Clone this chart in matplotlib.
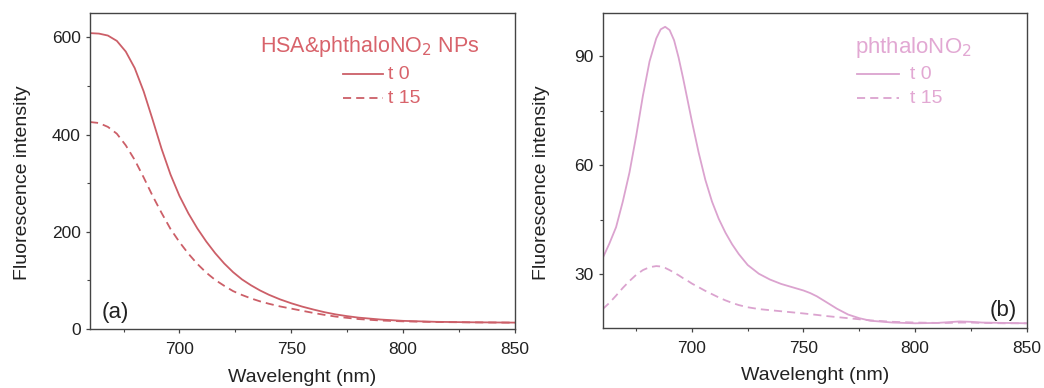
import matplotlib
matplotlib.use("Agg")
import matplotlib.pyplot as plt

plt.rcParams['font.family'] = ['Liberation Sans', 'DejaVu Sans']

# Panel (a): HSA&phthaloNO2 NPs
wl_a = [660, 664, 668, 672, 676, 680, 684, 688, 692, 696, 700, 704, 708, 712, 716,
        720, 724, 728, 732, 736, 740, 745, 750, 755, 760, 765, 770, 775, 780, 790,
        800, 815, 830, 850]
a_t0 = [609, 608, 604, 593, 571, 537, 489, 431, 371, 318, 274, 238, 207, 180, 156,
        135, 117, 102, 90, 79.5, 70.5, 61, 53, 46, 40, 34.5, 30, 26.5, 23.5, 19.5,
        16.8, 14.8, 13.9, 13.2]
a_t15 = [426, 424, 416, 402, 378, 348, 312, 274, 239, 206, 179, 155, 134, 116, 101,
         89, 78, 70, 63, 57, 52, 46.5, 42, 37.5, 33, 29, 25.5, 23, 20.5, 17.5,
         15.8, 14.4, 13.7, 13.1]

# Panel (b): phthaloNO2
wl_b = [660, 663, 666, 669, 672, 675, 678, 681, 684, 686, 688, 690, 692, 694, 696,
        698, 700, 703, 706, 709, 712, 715, 718, 721, 725, 730, 735, 740, 745, 750,
        753, 756, 760, 765, 770, 775, 780, 790, 800, 810, 815, 820, 825, 830, 840, 850]
b_t0 = [34.5, 38.5, 43, 50, 58, 68, 79, 88.5, 94.8, 97.3, 98.0, 97.1, 94.3, 89.6, 84.0,
        78.0, 72.0, 63.5, 56.0, 50.0, 45.3, 41.5, 38.3, 35.6, 32.6, 30.2, 28.6, 27.4, 26.5, 25.6,
        24.9, 24.0, 22.5, 20.6, 19.0, 18.0, 17.3, 16.8, 16.6, 16.7, 16.9, 17.1, 17.0, 16.8, 16.7, 16.6]
b_t15 = [20.5, 22.2, 24.2, 26.3, 28.2, 29.9, 31.2, 32.0, 32.3, 32.2, 31.8, 31.2, 30.5, 29.8, 29.0,
         28.3, 27.5, 26.5, 25.5, 24.6, 23.7, 22.9, 22.2, 21.6, 21.0, 20.5, 20.2, 19.9, 19.6, 19.3,
         19.1, 18.9, 18.6, 18.3, 18.0, 17.7, 17.4, 17.0, 16.8, 16.7, 16.7, 16.8, 16.8, 16.7, 16.6, 16.6]

col_a = "#cc5f68"
txt_a = "#d8636b"
col_b = "#dba3cf"
txt_b = "#e2a8d3"
frame = "#444444"
dash = (0, (4.5, 2.8))

fig = plt.figure(figsize=(10.44, 3.88), dpi=100)
ax1 = fig.add_axes([0.0862, 0.152, 0.407, 0.814])
ax2 = fig.add_axes([0.5773, 0.1546, 0.406, 0.812])


def style(ax, ylab_x):
    for s in ax.spines.values():
        s.set_color(frame)
        s.set_linewidth(1.0)
    ax.tick_params(axis='both', which='major', direction='out', length=3.2,
                   width=0.9, color=frame, labelsize=12.5, labelcolor="#222222")
    ax.tick_params(axis='x', which='major', pad=6)
    ax.tick_params(axis='y', which='major', pad=3.5)
    ax.tick_params(axis='both', which='minor', direction='out', length=2.2,
                   width=0.8, color=frame)
    ax.set_xlabel("Wavelenght (nm)", fontsize=14, color="#222222")
    ax.set_ylabel("Fluorescence intensity", fontsize=14, color="#222222")
    ax.xaxis.set_label_coords(0.5, -0.125)
    ax.xaxis.label.set_verticalalignment('top')
    ax.yaxis.set_label_coords(ylab_x, 0.462)


# Panel a
ax1.plot(wl_a, a_t0, color=col_a, lw=1.3, ls='-')
ax1.plot(wl_a, a_t15, color=col_a, lw=1.3, ls=dash)
ax1.set_xlim(660, 850)
ax1.set_ylim(0, 650)
ax1.set_xticks([700, 750, 800, 850])
ax1.set_xticks([675, 725, 775, 825], minor=True)
ax1.set_yticks([0, 200, 400, 600])
ax1.set_yticks([100, 300, 500], minor=True)
style(ax1, -0.14)
ax1.text(0.918, 0.878, r"HSA&phthaloNO$_2$ NPs", transform=ax1.transAxes,
         ha='right', va='baseline', fontsize=15.5, color=txt_a)
ax1.plot([0.595, 0.69], [0.807, 0.807], transform=ax1.transAxes, color=col_a, lw=1.3)
ax1.plot([0.595, 0.69], [0.731, 0.731], transform=ax1.transAxes, color=col_a, lw=1.3,
         ls=dash)
ax1.text(0.702, 0.807, "t 0", transform=ax1.transAxes, ha='left', va='center',
         fontsize=14, color=txt_a)
ax1.text(0.702, 0.731, "t 15", transform=ax1.transAxes, ha='left', va='center',
         fontsize=14, color=txt_a)
ax1.text(0.028, 0.035, "(a)", transform=ax1.transAxes, ha='left', va='baseline',
         fontsize=16, color="#222222")

# Panel b
ax2.plot(wl_b, b_t0, color=col_b, lw=1.3, ls='-')
ax2.plot(wl_b, b_t15, color=col_b, lw=1.3, ls=dash)
ax2.set_xlim(660, 850)
ax2.set_ylim(15.3, 101.8)
ax2.set_xticks([700, 750, 800, 850])
ax2.set_xticks([675, 725, 775, 825], minor=True)
ax2.set_yticks([30, 60, 90])
ax2.set_yticks([45, 75], minor=True)
style(ax2, -0.124)
ax2.text(0.595, 0.873, r"phthaloNO$_2$", transform=ax2.transAxes,
         ha='left', va='baseline', fontsize=16, color=txt_b)
ax2.plot([0.60, 0.70], [0.806, 0.806], transform=ax2.transAxes, color=col_b, lw=1.3)
ax2.plot([0.60, 0.70], [0.730, 0.730], transform=ax2.transAxes, color=col_b, lw=1.3,
         ls=dash)
ax2.text(0.725, 0.806, "t 0", transform=ax2.transAxes, ha='left', va='center',
         fontsize=14, color=txt_b)
ax2.text(0.725, 0.730, "t 15", transform=ax2.transAxes, ha='left', va='center',
         fontsize=14, color=txt_b)
ax2.text(0.977, 0.038, "(b)", transform=ax2.transAxes, ha='right', va='baseline',
         fontsize=16, color="#222222")

fig.savefig("out.png", dpi=100)
